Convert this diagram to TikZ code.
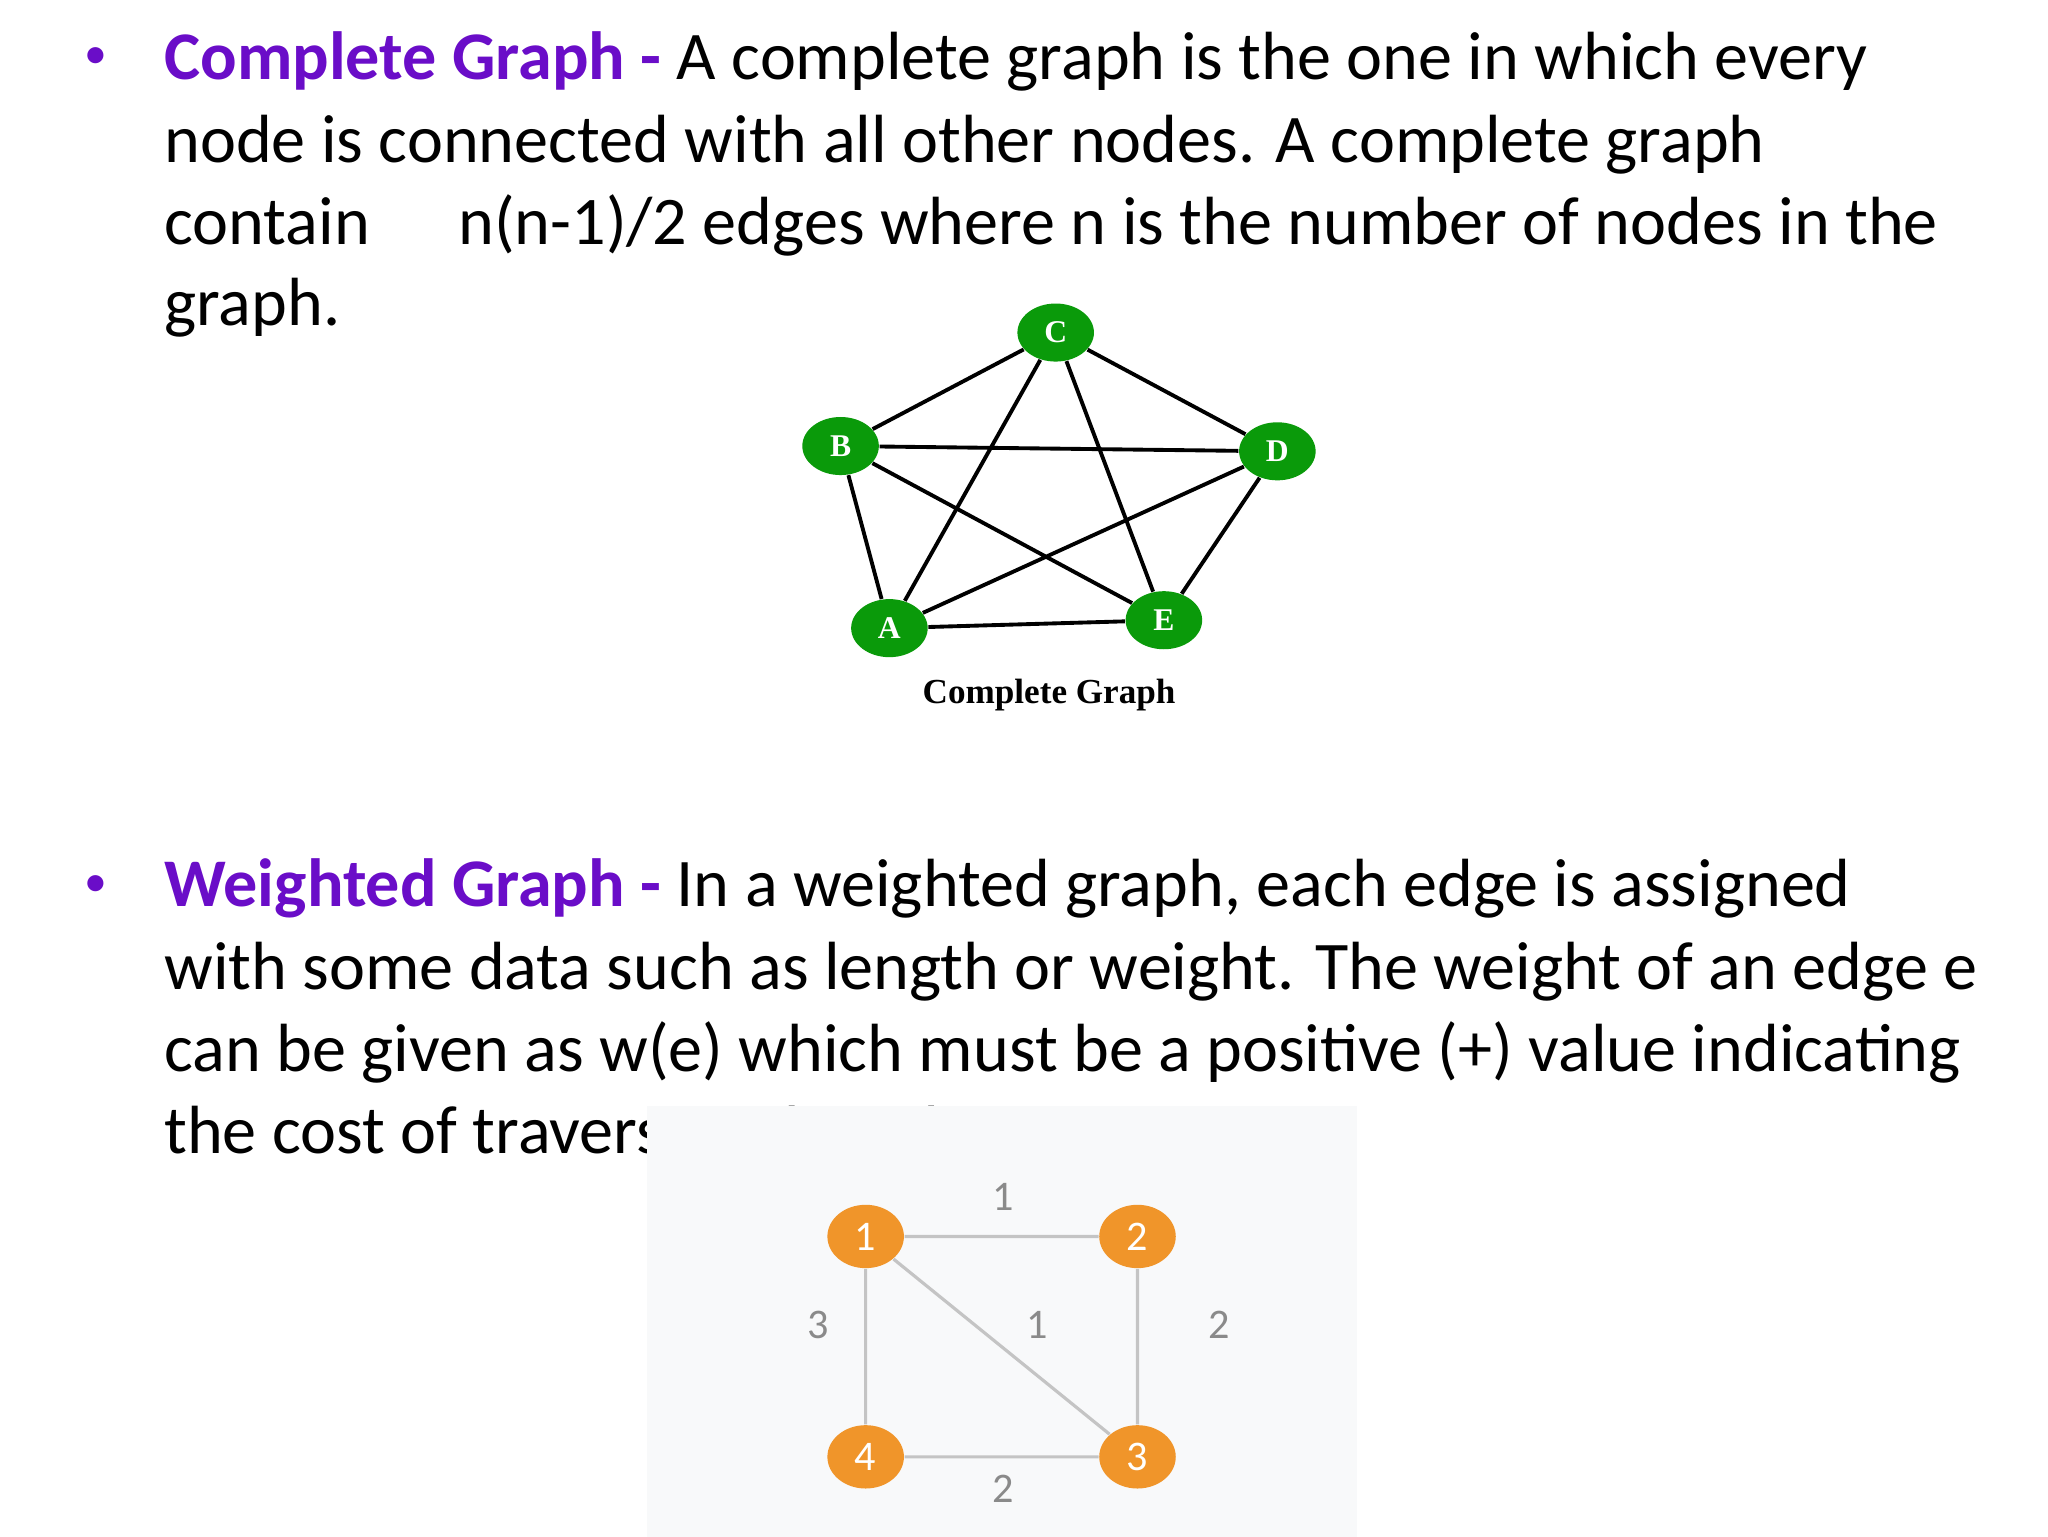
\documentclass[tikz,border=0pt]{standalone}
\usepackage{fontspec}
\usetikzlibrary{shapes.geometric}
\setmainfont{Carlito}
\newfontfamily\serifx{Liberation Serif}
\definecolor{purp}{HTML}{6A0DC8}
\definecolor{gnode}{HTML}{0A9A0A}
\definecolor{onode}{HTML}{F0952A}
\definecolor{gline}{HTML}{C4C4C4}
\definecolor{wlab}{HTML}{8A8A8A}
\definecolor{wbg}{HTML}{F8F9FA}
\begin{document}
\begin{tikzpicture}[x=0.0132cm,y=-0.0132cm,
  txt/.style={anchor=base west,inner sep=0pt,font=\fontsize{19.4}{23}\selectfont},
  bul/.style={anchor=base,inner sep=0pt,text=purp,font=\fontsize{13}{14}\selectfont},
  gn/.style={ellipse,fill=gnode,inner sep=0pt,text=white,font=\serifx\bfseries\fontsize{9}{10}\selectfont},
  on/.style={ellipse,fill=onode,inner sep=0pt,text=white,font=\fontsize{12}{12}\selectfont},
  ge/.style={line width=1.1pt,black},
  oe/.style={line width=0.9pt,gline},
  wl/.style={text=wlab,font=\fontsize{12}{12}\selectfont,inner sep=0pt}]
\useasboundingbox (0,0) rectangle (1552,1164);
\fill[white] (0,0) rectangle (1552,1164);
% block 1
\node[bul] (b1) at (73,52) {\textbullet};
\node[txt] (t1) at (124,60) {\textcolor{purp}{\textbf{Complete Graph -}} A complete graph is the one in which every};
\node[txt] (t2) at (124,123) {node is connected with all other nodes. A complete graph};
\node[txt] (t3) at (124,185) {contain\hspace{1.3em}n(n-1)/2 edges where n is the number of nodes in the};
\node[txt] (t4) at (124,247) {graph.};
% complete graph
\begin{scope}[every node/.style={gn,minimum width=58*0.0132cm,minimum height=44*0.0132cm}]
\node (C) at (800,252) {C};
\node (B) at (637,338) {B};
\node (D) at (968,342) {D};
\node (A) at (674,476) {A};
\node (E) at (882,470) {E};
\end{scope}
\draw[ge] (A)--(B) (A)--(C) (A)--(D) (A)--(E) (B)--(C) (B)--(D) (B)--(E) (C)--(D) (C)--(E) (D)--(E);
\node[font=\serifx\bfseries\fontsize{10}{12}\selectfont] (cap) at (795,527) {Complete Graph};
% block 2
\node[bul] (b2) at (73,679) {\textbullet};
\node[txt] (u1) at (124,687) {\textcolor{purp}{\textbf{Weighted Graph -}} In a weighted graph, each edge is assigned};
\node[txt] (u2) at (124,750) {with some data such as length or weight. The weight of an edge e};
\node[txt] (u3) at (124,812) {can be given as w(e) which must be a positive (+) value indicating};
\node[txt] (u4) at (124,874) {the cost of traversing the edge.};
\fill[wbg] (490,838) rectangle (1028,1176);
\begin{scope}[every node/.style={on,minimum width=58*0.0132cm,minimum height=48*0.0132cm}]
\node (n1) at (656,937) {1};
\node (n2) at (862,937) {2};
\node (n4) at (656,1104) {4};
\node (n3) at (862,1104) {3};
\end{scope}
\draw[oe] (n1)--(n2) (n2)--(n3) (n1)--(n4) (n4)--(n3) (n1)--(n3);
\node[wl] (l12) at (760,907) {1};
\node[wl] (l14) at (620,1004) {3};
\node[wl] (l13) at (786,1004) {1};
\node[wl] (l23) at (924,1004) {2};
\node[wl] (l43) at (760,1128) {2};
\end{tikzpicture}
\end{document}
